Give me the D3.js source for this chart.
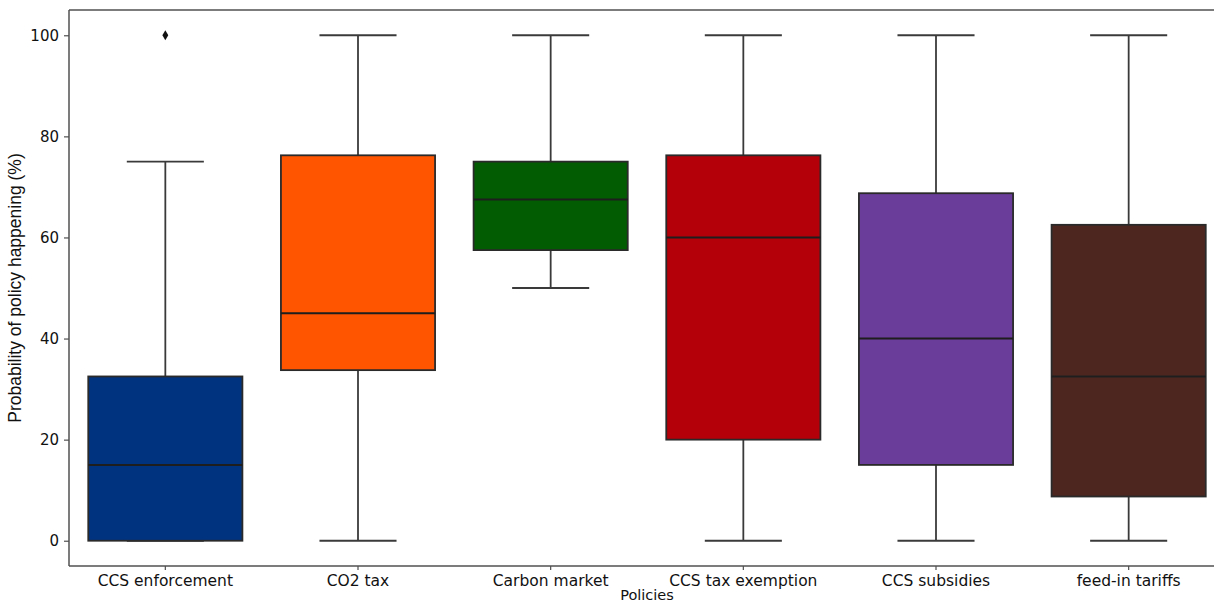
<!DOCTYPE html>
<html>
<head>
<meta charset="utf-8">
<script src="https://cdn.jsdelivr.net/npm/d3@7"></script>
<style>
  html, body { margin: 0; padding: 0; background: #fff; }
  svg { display: block; }
</style>
</head>
<body>
<svg id="chart" width="1214" height="605"></svg>
<script>
// Policy probability distributions (%), one box per policy
const categories = ["CCS enforcement", "CO2 tax", "Carbon market", "CCS tax exemption", "CCS subsidies", "feed-in tariffs"];
const whiskerLow = [0, 0, 50, 0, 0, 0];
const q1 = [0, 33.75, 57.5, 20, 15, 8.75];
const median = [15, 45, 67.5, 60, 40, 32.5];
const q3 = [32.5, 76.25, 75, 76.25, 68.75, 62.5];
const whiskerHigh = [75, 100, 100, 100, 100, 100];
const outliers = [[100], [], [], [], [], []];
const colors = ["#00337f", "#ff5500", "#025c02", "#b30009", "#6a3d9a", "#4e2620"];
const yTicks = [0, 20, 40, 60, 80, 100];

const svg = d3.select("#chart");
const plotLeft = 69, plotRight = 1225, plotTop = 10, plotBottom = 566;

const x = d3.scaleBand().domain(categories).range([plotLeft, plotRight]).paddingInner(0).paddingOuter(0);
const y = d3.scaleLinear().domain([-5, 105]).range([plotBottom, plotTop]);

const boxW = x.bandwidth() * 0.8;
const capW = boxW * 0.5;
const lineColor = "#3a3a3a";
const font = "'DejaVu Sans', sans-serif";

const data = categories.map((c, i) => ({
  c, lo: whiskerLow[i], q1: q1[i], med: median[i], q3: q3[i], hi: whiskerHigh[i],
  out: outliers[i], color: colors[i]
}));

const g = svg.append("g");
const boxes = g.selectAll("g.box").data(data).join("g").attr("class", "box")
  .attr("transform", d => `translate(${x(d.c) + x.bandwidth() / 2},0)`);

// whiskers
boxes.append("line").attr("x1", 0).attr("x2", 0)
  .attr("y1", d => y(d.q3)).attr("y2", d => y(d.hi))
  .attr("stroke", lineColor).attr("stroke-width", 1.8);
boxes.append("line").attr("x1", 0).attr("x2", 0)
  .attr("y1", d => y(d.q1)).attr("y2", d => y(d.lo))
  .attr("stroke", lineColor).attr("stroke-width", 1.8);
// caps
boxes.append("line").attr("x1", -capW / 2).attr("x2", capW / 2)
  .attr("y1", d => y(d.hi)).attr("y2", d => y(d.hi))
  .attr("stroke", lineColor).attr("stroke-width", 1.8);
boxes.append("line").attr("x1", -capW / 2).attr("x2", capW / 2)
  .attr("y1", d => y(d.lo)).attr("y2", d => y(d.lo))
  .attr("stroke", lineColor).attr("stroke-width", 1.8);

// boxes
boxes.append("rect")
  .attr("x", -boxW / 2).attr("width", boxW)
  .attr("y", d => y(d.q3)).attr("height", d => y(d.q1) - y(d.q3))
  .attr("fill", d => d.color).attr("stroke", "#2a2a2a").attr("stroke-width", 1.8);

// medians
boxes.append("line").attr("x1", -boxW / 2).attr("x2", boxW / 2)
  .attr("y1", d => y(d.med)).attr("y2", d => y(d.med))
  .attr("stroke", "#1e1e1e").attr("stroke-width", 2);

// outliers
boxes.selectAll("path.flier").data(d => d.out).join("path").attr("class", "flier")
  .attr("d", d3.symbol(d3.symbolDiamond, 30))
  .attr("transform", v => `translate(0,${y(v)})`)
  .attr("fill", "#111");

// axes frame (left, top, bottom spines)
const spine = "#505050";
svg.append("line").attr("x1", plotLeft).attr("x2", plotLeft).attr("y1", plotTop).attr("y2", plotBottom)
  .attr("stroke", spine).attr("stroke-width", 1.5);
svg.append("line").attr("x1", plotLeft).attr("x2", plotRight).attr("y1", plotTop).attr("y2", plotTop)
  .attr("stroke", spine).attr("stroke-width", 1.5);
svg.append("line").attr("x1", plotLeft).attr("x2", plotRight).attr("y1", plotBottom).attr("y2", plotBottom)
  .attr("stroke", spine).attr("stroke-width", 1.5);

// y axis
const yAxis = svg.append("g").attr("transform", `translate(${plotLeft},0)`)
  .call(d3.axisLeft(y).tickValues(yTicks).tickSize(5).tickPadding(5));
yAxis.select(".domain").remove();
yAxis.selectAll(".tick line").attr("stroke", spine).attr("stroke-width", 1.2);
yAxis.selectAll(".tick text").attr("fill", "#111")
  .style("font-family", font).style("font-size", "15px");

// x axis
const xAxis = svg.append("g").attr("transform", `translate(0,${plotBottom})`)
  .call(d3.axisBottom(x).tickSize(4).tickPadding(5));
xAxis.select(".domain").remove();
xAxis.selectAll(".tick line").attr("stroke", spine).attr("stroke-width", 1.2);
xAxis.selectAll(".tick text").attr("fill", "#111")
  .style("font-family", font).style("font-size", "15.5px");

// axis titles
svg.append("text").attr("x", (plotLeft + plotRight) / 2).attr("y", 600)
  .attr("text-anchor", "middle").attr("fill", "#111")
  .style("font-family", font).style("font-size", "14.5px").text("Policies");
svg.append("text")
  .attr("transform", `translate(21,${(plotTop + plotBottom) / 2}) rotate(-90)`)
  .attr("text-anchor", "middle").attr("fill", "#111")
  .style("font-family", "'Liberation Sans', Arial, sans-serif").style("font-size", "17.5px")
  .text("Probability of policy happening (%)");
</script>
</body>
</html>
